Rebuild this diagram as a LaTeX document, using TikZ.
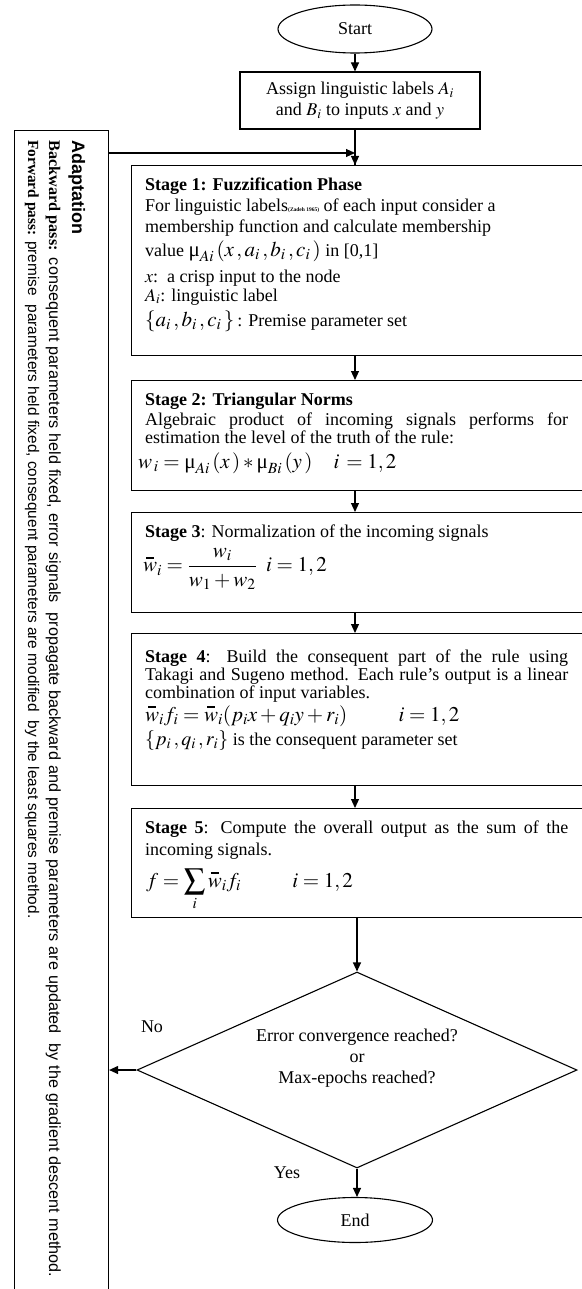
\documentclass[tikz,border=0pt]{standalone}
\usepackage{amsmath}
\usepackage{mathptmx}
\usepackage{fontspec}
\setmainfont{Liberation Serif}
\newfontfamily\adsans{Liberation Sans}
\usetikzlibrary{shapes.geometric,arrows.meta}
\newcommand{\wbar}{\mathord{\hbox{\ooalign{$w$\cr\hidewidth\rule[0.62em]{0.38em}{0.1em}\hidewidth\cr}}}}
\newcommand{\umu}{\text{μ}}
\newcommand{\fs}{\fontsize{18}{21}\selectfont}
\newcommand{\fm}{\fontsize{21}{24}\selectfont}
\begin{document}
\begin{tikzpicture}[x=1pt,y=-1pt,
  every node/.style={font=\fs},
  line/.style={line width=1.1pt},
  arr/.style={line width=1.1pt,-{Triangle[length=9pt,width=8pt]}},
  stagebox/.style={draw,line width=1.1pt,inner sep=0pt,anchor=north west,minimum width=459pt},
  tl/.style={anchor=base west,inner sep=0pt},
  term/.style={draw,line width=1.1pt,ellipse,inner sep=0pt},
  adtext/.style={rotate=-90,anchor=base west,inner sep=0pt}]
\useasboundingbox (0,0) rectangle (581,1289);

% terminals and first box
\node[term,minimum width=154pt,minimum height=48pt] (start) at (355,29) {Start};
\node[draw,line width=1.1pt,align=center,minimum width=240pt,minimum height=57pt,inner sep=0pt] (assign) at (360,100.5)
  {Assign linguistic labels $A_i$\\and $B_i$ to inputs $x$ and $y$};

% adaptation box
\node[draw,line width=1.1pt,inner sep=0pt,anchor=north west,minimum width=94pt,minimum height=1200pt] (adapt) at (14,130) {};
\node[adtext,font=\adsans\bfseries\fontsize{18}{20}\selectfont] (adtitle) at (72,140) {Adaptation};
\node[adtext,font=\adsans\fontsize{16.2}{20}\selectfont] (adback) at (49,140)
  {\makebox[1137pt][s]{{\rmfamily\bfseries Backward pass:} consequent parameters held fixed, error signals\ \ propagate backward and premise parameters are updated\ \ by the gradient descent method.}};
\node[adtext,font=\adsans\fontsize{15.4}{20}\selectfont] (adfwd) at (28,140)
  {{\rmfamily\bfseries Forward pass:} premise\ \ parameters held fixed, consequent parameters are modified\ \ by the least squares method.};

% stage boxes
\node[stagebox,minimum height=190pt] (s1) at (131,165) {};
\node[stagebox,minimum height=110pt] (s2) at (131,380) {};
\node[stagebox,minimum height=100pt] (s3) at (131,512) {};
\node[stagebox,minimum height=152pt] (s4) at (131,633) {};
\node[stagebox,minimum height=109pt] (s5) at (131,808) {};

% stage 1 text
\node[tl] (s1a) at (145,191) {\textbf{Stage 1: Fuzzification Phase}};
\node[tl] (s1b) at (145,212) {For linguistic labels{\fontsize{5.5}{6}\selectfont\bfseries(Zadeh 1965)} of each input consider a};
\node[tl] (s1c) at (145,233) {membership function and calculate membership};
\node[tl] (s1d) at (145,256) {value {\fm$\umu_{Ai}\,(x\,,a_i\,,b_i\,,c_i\,)$} in [0,1]};
\node[tl] (s1e) at (145,282) {$x$:\ \ a crisp input to the node};
\node[tl] (s1f) at (145,301) {$A_i$: linguistic label};
\node[tl] (s1g) at (145,326) {{\fm$\{a_i\,,b_i\,,c_i\,\}$}\,: Premise parameter set};

% stage 2 text
\node[tl] (s2a) at (145,405) {\textbf{Stage 2: Triangular Norms}};
\node[tl] (s2b) at (145,425) {\makebox[423pt][s]{Algebraic product of incoming signals performs for}};
\node[tl] (s2c) at (145,443) {estimation the level of the truth of the rule:};
\node[tl] (s2d) at (138,468) {\fm$w_{\,i} = \umu_{Ai}\,(x\,) * \umu_{Bi}\,(y\,)\quad i\, =1,2$};

% stage 3 text
\node[tl] (s3a) at (145,537) {\textbf{Stage 3}: Normalization of the incoming signals};
\node[anchor=west,inner sep=0pt] (s3b) at (143,569) {\fm$\wbar_i = \dfrac{w_i}{w_1 + w_2}\;\; i = 1,2$};

% stage 4 text
\node[tl] (s4a) at (145,662) {\makebox[423pt][s]{\textbf{Stage 4}: Build the consequent part of the rule using}};
\node[tl] (s4b) at (145,680) {\makebox[423pt][s]{Takagi and Sugeno method. Each rule’s output is a linear}};
\node[tl] (s4c) at (145,698) {combination of input variables.};
\node[tl] (s4d) at (145,721) {\fm$\wbar_i f_i = \wbar_i(p_i x + q_i y + r_i)\qquad\;\; i = 1,2$};
\node[tl] (s4e) at (145,745) {{\fontsize{20}{22}\selectfont$\{p_i\,,q_i\,,r_i\}$} is the consequent parameter set};

% stage 5 text
\node[tl] (s5a) at (145,833) {\makebox[423pt][s]{\textbf{Stage 5}: Compute the overall output as the sum of the}};
\node[tl] (s5b) at (145,855) {incoming signals.};
\node[tl] (s5c) at (146,887) {\fm$f = \displaystyle\sum_{i} \wbar_i f_i \qquad\;\; i = 1,2$};

% decision and end
\node[diamond,draw,line width=1.1pt,aspect=2.245,minimum width=440pt,minimum height=196pt,inner sep=0pt] (dec) at (357,1070) {};
\node[align=center,inner sep=0pt,font=\fontsize{18}{21}\selectfont] (dectext) at (357,1058)
  {Error convergence reached?\\or\\Max-epochs reached?};
\node[term,minimum width=155pt,minimum height=45pt] (end) at (355,1220) {End};
\node (no) at (152,1027) {No};
\node (yes) at (287,1173) {Yes};

% connectors
\coordinate (j) at (355,153);
\draw[arr] (start.south) -- (start.south |- assign.north);
\draw[line] (assign.south -| start) -- (s1.north -| start);
\draw[arr] (adapt.east |- j) -- (j);
\draw[arr] (j) -- (s1.north -| start);
\draw[arr] (s1.south -| start) -- (s2.north -| start);
\draw[arr] (s2.south -| start) -- (s3.north -| start);
\draw[arr] (s3.south -| start) -- (s4.north -| start);
\draw[arr] (s4.south -| start) -- (s5.north -| start);
\draw[arr] (s5.south -| dec) -- (dec.north);
\draw[arr] (dec.south) -- (end.north -| dec);
\draw[arr] (dec.west) -- (dec.west -| adapt.east);
\end{tikzpicture}
\end{document}
